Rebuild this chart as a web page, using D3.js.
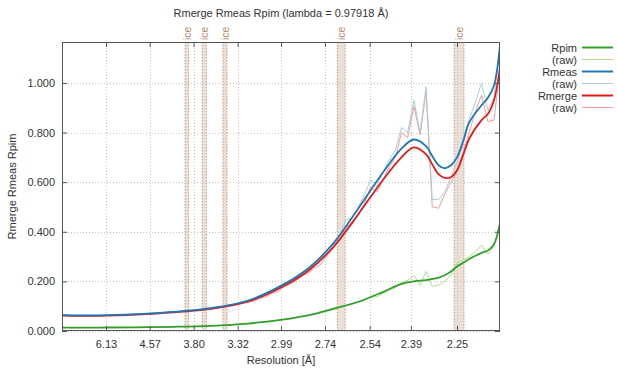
<!DOCTYPE html>
<html>
<head>
<meta charset="utf-8">
<script src="https://cdn.jsdelivr.net/npm/d3@7"></script>
<style>
    body { margin: 0; background: #fff; }
    svg { font-family: "Liberation Sans", Arial, sans-serif; }
</style>
</head>
<body>
<svg id="chart" width="617" height="374"></svg>
<script>
/* Data */
/* **** */

// Resolution (Å) of each raw shell
var rawRes = [13.48, 10.85, 9.325, 8.305, 7.559, 6.984, 6.523, 6.143, 5.822, 5.547,
    5.307, 5.096, 4.909, 4.740, 4.588, 4.450, 4.323, 4.207, 4.100, 4.000,
    3.907, 3.821, 3.740, 3.664, 3.592, 3.525, 3.461, 3.400, 3.343, 3.288,
    3.236, 3.186, 3.139, 3.093, 3.050, 3.008, 2.968, 2.930, 2.893, 2.857,
    2.823, 2.790, 2.758, 2.727, 2.697, 2.668, 2.640, 2.613, 2.586, 2.561,
    2.536, 2.512, 2.488, 2.466, 2.443, 2.422, 2.401, 2.380, 2.360, 2.341,
    2.322, 2.303, 2.285, 2.267, 2.250, 2.233, 2.217, 2.201, 2.185, 2.169,
    2.154, 2.139];

var rpimRaw = [0.014, 0.014, 0.013, 0.014, 0.014, 0.014, 0.014, 0.014, 0.015, 0.015,
    0.015, 0.015, 0.015, 0.016, 0.016, 0.016, 0.016, 0.017, 0.017, 0.018,
    0.018, 0.019, 0.019, 0.020, 0.021, 0.022, 0.023, 0.025, 0.025, 0.028,
    0.029, 0.031, 0.035, 0.036, 0.040, 0.042, 0.047, 0.050, 0.055, 0.060,
    0.063, 0.069, 0.074, 0.081, 0.086, 0.094, 0.104, 0.107, 0.116, 0.124,
    0.137, 0.138, 0.152, 0.165, 0.175, 0.195, 0.205, 0.225, 0.185, 0.240,
    0.180, 0.185, 0.200, 0.225, 0.275, 0.285, 0.300, 0.320, 0.345, 0.310,
    0.340, 0.440];

var rmeasRaw = [0.065, 0.064, 0.063, 0.062, 0.063, 0.062, 0.064, 0.063, 0.065, 0.066,
    0.066, 0.068, 0.067, 0.070, 0.070, 0.073, 0.072, 0.076, 0.076, 0.080,
    0.080, 0.085, 0.085, 0.090, 0.091, 0.097, 0.099, 0.106, 0.108, 0.118,
    0.121, 0.128, 0.141, 0.146, 0.162, 0.170, 0.192, 0.200, 0.218, 0.240,
    0.250, 0.272, 0.294, 0.330, 0.350, 0.385, 0.450, 0.455, 0.500, 0.550,
    0.610, 0.585, 0.640, 0.690, 0.730, 0.820, 0.800, 0.930, 0.800, 0.985,
    0.530, 0.530, 0.560, 0.620, 0.680, 0.780, 0.855, 0.920, 1.000, 0.890,
    0.940, 1.150];

var rmergeRaw = [0.063, 0.062, 0.061, 0.061, 0.061, 0.061, 0.062, 0.062, 0.063, 0.064,
    0.065, 0.066, 0.066, 0.068, 0.069, 0.071, 0.071, 0.074, 0.074, 0.078,
    0.078, 0.082, 0.083, 0.087, 0.088, 0.094, 0.096, 0.102, 0.104, 0.112,
    0.115, 0.120, 0.133, 0.138, 0.152, 0.160, 0.180, 0.190, 0.205, 0.225,
    0.236, 0.255, 0.270, 0.310, 0.335, 0.370, 0.420, 0.430, 0.470, 0.515,
    0.580, 0.560, 0.610, 0.660, 0.700, 0.800, 0.780, 0.905, 0.790, 0.965,
    0.500, 0.495, 0.550, 0.600, 0.640, 0.720, 0.800, 0.885, 0.950, 0.844,
    0.850, 1.060];

// Resolution (Å) of the fitted curves
var fitRes = [13.48, 6.523, 4.909, 4.100, 3.592, 3.236, 2.968, 2.823, 2.697, 2.586,
    2.488, 2.422, 2.380, 2.341, 2.322, 2.303, 2.285, 2.267, 2.250, 2.233,
    2.217, 2.185, 2.169, 2.154, 2.139];

var rpimFit = [0.014, 0.014, 0.015, 0.017, 0.021, 0.030, 0.047, 0.064, 0.090, 0.118,
    0.158, 0.190, 0.200, 0.205, 0.210, 0.215, 0.225, 0.240, 0.260, 0.275,
    0.290, 0.315, 0.325, 0.350, 0.440];

var rmeasFit = [0.064, 0.063, 0.068, 0.077, 0.092, 0.122, 0.190, 0.255, 0.355, 0.495,
    0.640, 0.735, 0.772, 0.745, 0.705, 0.668, 0.656, 0.668, 0.700, 0.765,
    0.840, 0.910, 0.940, 0.990, 1.160];

var rmergeFit = [0.062, 0.061, 0.066, 0.075, 0.089, 0.118, 0.183, 0.245, 0.340, 0.472,
    0.610, 0.700, 0.740, 0.712, 0.672, 0.632, 0.617, 0.620, 0.648, 0.710,
    0.775, 0.850, 0.875, 0.930, 1.070];

// Ice rings: [low-angle edge, high-angle edge] in Å
var iceRings = [[3.92, 3.87], [3.69, 3.64], [3.46, 3.42], [2.68, 2.644], [2.258, 2.231]];

var xTicks = [6.13, 4.57, 3.80, 3.32, 2.99, 2.74, 2.54, 2.39, 2.25];
var yTicks = [0, 0.2, 0.4, 0.6, 0.8, 1.0];

/* Setup */
/* ***** */
var svg = d3.select('#chart');
var plot = { left: 62, right: 500, top: 42, bottom: 331 };
var frameColor = '#555';
var textColor = '#333';

// x is linear in 1/d^2
var xs = d3.scaleLinear()
    .domain([1 / (13.9 * 13.9), 1 / (2.1395 * 2.1395)])
    .range([plot.left, plot.right]);
var xPos = function (d) { return xs(1 / (d * d)); };

var y = d3.scaleLinear()
    .domain([0, 1.165])
    .range([plot.bottom, plot.top]);

svg.append('defs')
    .append('clipPath')
    .attr('id', 'clip')
    .append('rect')
    .attr('x', plot.left)
    .attr('y', plot.top)
    .attr('width', plot.right - plot.left)
    .attr('height', plot.bottom - plot.top);

// Ice ring bands
var iceGroup = svg.append('g').attr('class', 'ice');
iceRings.forEach(function (r) {
    var x0 = xPos(r[0]), x1 = xPos(r[1]);
    iceGroup.append('rect')
        .attr('x', x0)
        .attr('y', plot.top)
        .attr('width', x1 - x0)
        .attr('height', plot.bottom - plot.top)
        .attr('fill', '#ecdfd6');
    [x0, x1].forEach(function (xx) {
        iceGroup.append('line')
            .attr('x1', xx).attr('x2', xx)
            .attr('y1', plot.top).attr('y2', plot.bottom)
            .attr('stroke', '#c99a7e')
            .attr('stroke-width', 1)
            .attr('stroke-dasharray', '1.5,1.5');
    });
    var cx = (x0 + x1) / 2 + 4;
    iceGroup.append('text')
        .attr('transform', 'translate(' + cx + ',' + (plot.top - 2) + ') rotate(-90)')
        .attr('fill', '#b9866a')
        .attr('font-size', 10.5)
        .text('ice');
});

// Grid
var grid = svg.append('g').attr('class', 'grid')
    .attr('stroke', '#c4c4c4')
    .attr('stroke-width', 1)
    .attr('stroke-dasharray', '1,2');
xTicks.forEach(function (t) {
    var xx = Math.round(xPos(t)) + 0.5;
    grid.append('line')
        .attr('x1', xx).attr('x2', xx)
        .attr('y1', plot.top).attr('y2', plot.bottom);
});
yTicks.forEach(function (t) {
    var yy = Math.round(y(t)) + 0.5;
    grid.append('line')
        .attr('x1', plot.left).attr('x2', plot.right)
        .attr('y1', yy).attr('y2', yy);
});

/* Series */
/* ****** */
var lines = svg.append('g').attr('clip-path', 'url(#clip)');

var rawLine = d3.line()
    .x(function (d) { return xPos(d[0]); })
    .y(function (d) { return y(d[1]); });

var fitLine = d3.line()
    .x(function (d) { return xPos(d[0]); })
    .y(function (d) { return y(d[1]); })
    .curve(d3.curveCatmullRom.alpha(0.5));

var series = [
    { label: 'Rpim', res: fitRes, vals: rpimFit, color: '#33a02c', width: 1.8, fit: true },
    { label: '(raw)', res: rawRes, vals: rpimRaw, color: '#b2df8a', width: 1, fit: false },
    { label: 'Rmeas', res: fitRes, vals: rmeasFit, color: '#1f78b4', width: 1.8, fit: true },
    { label: '(raw)', res: rawRes, vals: rmeasRaw, color: '#a6cee3', width: 1, fit: false },
    { label: 'Rmerge', res: fitRes, vals: rmergeFit, color: '#e31a1c', width: 1.8, fit: true },
    { label: '(raw)', res: rawRes, vals: rmergeRaw, color: '#fb9a99', width: 1, fit: false }
];

// raw first, fits on top
[false, true].forEach(function (isFit) {
    series.filter(function (s) { return s.fit === isFit; }).reverse().forEach(function (s) {
        var pts = s.res.map(function (r, i) { return [r, s.vals[i]]; });
        lines.append('path')
            .attr('d', (isFit ? fitLine : rawLine)(pts))
            .attr('fill', 'none')
            .attr('stroke', s.color)
            .attr('stroke-width', s.width)
            .attr('stroke-linejoin', 'round');
    });
});

/* Axes */
/* **** */
var xBottom = d3.axisBottom(xs)
    .tickValues(xTicks.map(function (t) { return 1 / (t * t); }))
    .tickFormat(function (s, i) { return xTicks[i].toFixed(2); })
    .tickSize(-5)
    .tickPadding(9);
var xTop = d3.axisTop(xs)
    .tickValues(xTicks.map(function (t) { return 1 / (t * t); }))
    .tickFormat('')
    .tickSize(-5);
var yLeft = d3.axisLeft(y)
    .tickValues(yTicks)
    .tickFormat(d3.format('.3f'))
    .tickSize(-5)
    .tickPadding(7);
var yRight = d3.axisRight(y)
    .tickValues(yTicks)
    .tickFormat('')
    .tickSize(-5);

var styleAxis = function (g) {
    g.select('.domain').remove();
    g.selectAll('line').attr('stroke', frameColor);
    g.selectAll('text')
        .attr('fill', textColor)
        .attr('font-size', 11)
        .attr('font-family', '"Liberation Sans", Arial, sans-serif');
};

svg.append('g').attr('transform', 'translate(0,' + plot.bottom + ')').call(xBottom).call(styleAxis);
svg.append('g').attr('transform', 'translate(0,' + plot.top + ')').call(xTop).call(styleAxis);
svg.append('g').attr('transform', 'translate(' + plot.left + ',0)').call(yLeft).call(styleAxis);
svg.append('g').attr('transform', 'translate(' + plot.right + ',0)').call(yRight).call(styleAxis);

// Frame
svg.append('rect')
    .attr('x', plot.left + 0.5)
    .attr('y', plot.top + 0.5)
    .attr('width', plot.right - plot.left - 1)
    .attr('height', plot.bottom - plot.top - 1)
    .attr('fill', 'none')
    .attr('stroke', frameColor)
    .attr('stroke-width', 1);

/* Labels */
/* ****** */
svg.append('text')
    .attr('x', (plot.left + plot.right) / 2)
    .attr('y', 17)
    .attr('text-anchor', 'middle')
    .attr('font-size', 11)
    .attr('fill', textColor)
    .text('Rmerge Rmeas Rpim (lambda = 0.97918 Å)');

svg.append('text')
    .attr('x', (plot.left + plot.right) / 2)
    .attr('y', 364)
    .attr('text-anchor', 'middle')
    .attr('font-size', 11)
    .attr('fill', textColor)
    .text('Resolution [Å]');

svg.append('text')
    .attr('transform', 'translate(16,' + ((plot.top + plot.bottom) / 2) + ') rotate(-90)')
    .attr('text-anchor', 'middle')
    .attr('font-size', 11)
    .attr('fill', textColor)
    .text('Rmerge Rmeas Rpim');

// Legend
var legend = svg.append('g').attr('class', 'legend');
series.forEach(function (s, i) {
    var ly = 47.5 + i * 12;
    legend.append('text')
        .attr('x', 577)
        .attr('y', ly + 4)
        .attr('text-anchor', 'end')
        .attr('font-size', 11)
        .attr('fill', textColor)
        .text(s.label);
    legend.append('line')
        .attr('x1', 582).attr('x2', 613)
        .attr('y1', ly).attr('y2', ly)
        .attr('stroke', s.color)
        .attr('stroke-width', s.fit ? 2 : 1);
});
</script>
</body>
</html>
